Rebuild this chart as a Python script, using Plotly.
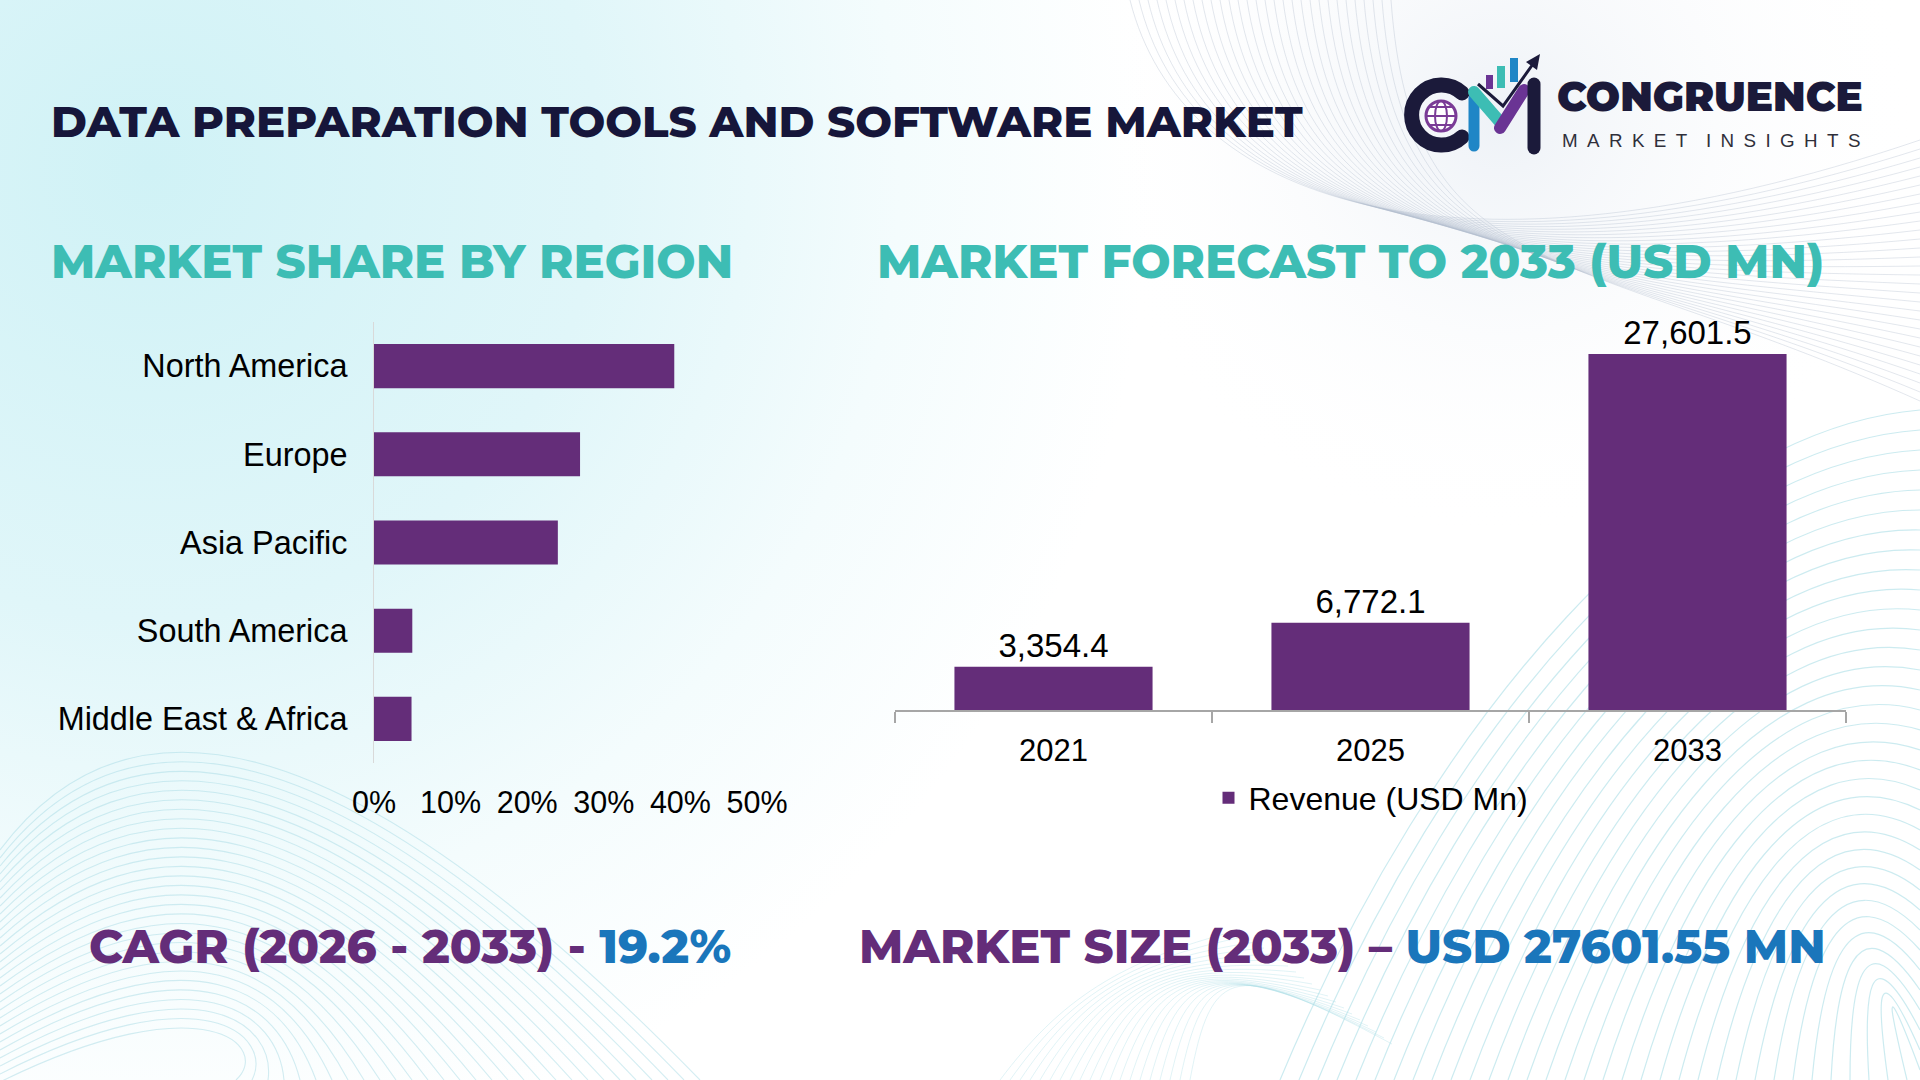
import base64
import plotly.graph_objects as go

# ---------------- data ----------------
regions = ["North America", "Europe", "Asia Pacific", "South America", "Middle East & Africa"]
shares = [0.392, 0.269, 0.240, 0.050, 0.049]
share_ticks = [0, 0.1, 0.2, 0.3, 0.4, 0.5]
years = ["2021", "2025", "2033"]
revenue = [3354.4, 6772.1, 27601.5]

title_text = "DATA PREPARATION TOOLS AND SOFTWARE MARKET"
left_heading = "MARKET SHARE BY REGION"
right_heading = "MARKET FORECAST TO 2033 (USD MN)"
cagr_label, cagr_value = "CAGR (2026 - 2033) - ", "19.2%"
size_label, size_value = "MARKET SIZE (2033) – ", "USD 27601.55 MN"

# ---------------- style ----------------
W, H = 1920, 1080
PURPLE = "#642d79"
TEAL = "#3dbdb4"
NAVY = "#16163a"
BLUE = "#1a76bb"
ARIAL = "Arial, Liberation Sans, Helvetica, sans-serif"
HEAD = "Montserrat, Open Sans, Inter, sans-serif"


def px(x):
    return x / W


def py(y):
    return 1 - y / H


# ---------------- decorative background (svg image) ----------------
svg = [f"<svg xmlns='http://www.w3.org/2000/svg' width='{W}' height='{H}' viewBox='0 0 {W} {H}' preserveAspectRatio='none'>"]
svg.append(
    "<defs>"
    "<radialGradient id='g1' gradientUnits='userSpaceOnUse' cx='150' cy='170' r='1000'>"
    "<stop offset='0' stop-color='#d0f2f6'/>"
    "<stop offset='0.45' stop-color='#e0f6f9'/>"
    "<stop offset='0.75' stop-color='#f4fcfd'/>"
    "<stop offset='1' stop-color='#ffffff'/>"
    "</radialGradient>"
    "<radialGradient id='g2' gradientUnits='userSpaceOnUse' cx='1500' cy='120' r='420'>"
    "<stop offset='0' stop-color='#eef2f7'/>"
    "<stop offset='1' stop-color='#ffffff' stop-opacity='0'/>"
    "</radialGradient>"
    "</defs>"
)
svg.append(f"<rect width='{W}' height='{H}' fill='#ffffff'/>")
svg.append(f"<rect width='{W}' height='{H}' fill='url(#g1)'/>")
svg.append(f"<rect width='{W}' height='{H}' fill='url(#g2)'/>")

# bottom-right cyan waves
for i in range(34):
    svg.append(
        f"<path d='M{1280 + i*19},{H} C{1430 + i*14},{720 + i*9} {1680 + i*6},{430 + i*16} {W},{410 + i*20}' "
        f"fill='none' stroke='#8fd2de' stroke-opacity='0.45' stroke-width='1.2'/>"
    )
# bottom-left cyan waves
for i in range(30):
    svg.append(
        f"<path d='M0,{850 + i*8} C{120 + i*3},{690 + i*10} {330 - i*2},{700 + i*12} {700 - i*16},{H}' "
        f"fill='none' stroke='#9fd8e2' stroke-opacity='0.45' stroke-width='1.1'/>"
    )
# bottom-middle waves
for i in range(20):
    svg.append(
        f"<path d='M{1000 + i*10},{H} C{1060 + i*8},{1000 - i*2} {1120 + i*6},{960} {1240 + i*8},{930 + i*6}' "
        f"fill='none' stroke='#a8dce5' stroke-opacity='0.35' stroke-width='1'/>"
    )
# top-right grey waves
for i in range(30):
    svg.append(
        f"<path d='M{1130 + i*9},0 C{1180 + i*8},{200 + i*3} {1450 + i*4},{300 - i*2} {W},{140 + i*9}' "
        f"fill='none' stroke='#aeb9cc' stroke-opacity='0.35' stroke-width='1'/>"
    )

# logo graphic (icon only; text is real text below)
svg.append(
    "<path d='M1462,93 A30,30 0 1,0 1462,137' fill='none' stroke='#1b1a3a' stroke-width='15' stroke-linecap='round'/>"
    "<circle cx='1441' cy='116' r='15' fill='#ffffff' stroke='#7a3b96' stroke-width='3'/>"
    "<ellipse cx='1441' cy='116' rx='6' ry='15' fill='none' stroke='#7a3b96' stroke-width='2'/>"
    "<line x1='1426' y1='116' x2='1456' y2='116' stroke='#7a3b96' stroke-width='2'/>"
    "<line x1='1429' y1='107' x2='1453' y2='107' stroke='#7a3b96' stroke-width='2'/>"
    "<line x1='1429' y1='125' x2='1453' y2='125' stroke='#7a3b96' stroke-width='2'/>"
    "<line x1='1474' y1='98' x2='1474' y2='146' stroke='#1f86c6' stroke-width='11' stroke-linecap='round'/>"
    "<line x1='1474' y1='92' x2='1500' y2='122' stroke='#3dbdb4' stroke-width='12' stroke-linecap='round'/>"
    "<line x1='1500' y1='128' x2='1524' y2='90' stroke='#6a3494' stroke-width='12' stroke-linecap='round'/>"
    "<line x1='1534' y1='84' x2='1534' y2='148' stroke='#1b1a3a' stroke-width='13' stroke-linecap='round'/>"
    "<rect x='1486' y='75' width='7' height='14' fill='#6a3494'/>"
    "<rect x='1497' y='66' width='8' height='22' fill='#3dbdb4'/>"
    "<rect x='1510' y='58' width='8' height='24' fill='#1f86c6'/>"
    "<polyline points='1478,84 1503,106 1533,64' fill='none' stroke='#1b1a3a' stroke-width='3'/>"
    "<polygon points='1540,54 1526,62 1537,70' fill='#1b1a3a'/>"
)
svg.append("</svg>")
svg_uri = "data:image/svg+xml;base64," + base64.b64encode("".join(svg).encode("utf-8")).decode("ascii")

# ---------------- figure ----------------
fig = go.Figure()

fig.add_trace(go.Bar(
    x=shares, y=regions, orientation="h",
    marker=dict(color=PURPLE, line=dict(width=0)),
    width=0.5, xaxis="x", yaxis="y", showlegend=False,
    hoverinfo="skip",
))

fig.add_trace(go.Bar(
    x=years, y=revenue, name="Revenue (USD Mn)",
    marker=dict(color=PURPLE, line=dict(width=0)),
    width=0.625, xaxis="x2", yaxis="y2", showlegend=True,
    texttemplate="%{y:,.1f}", textposition="outside", cliponaxis=False,
    textfont=dict(family=ARIAL, size=33, color="#000000"),
))

fig.update_layout(
    template="none",
    width=W, height=H,
    autosize=False,
    margin=dict(l=0, r=0, t=0, b=0, pad=0, autoexpand=False),
    paper_bgcolor="#ffffff",
    plot_bgcolor="rgba(0,0,0,0)",
    font=dict(family=ARIAL, size=30, color="#000000"),
    bargap=0.5,
    images=[dict(source=svg_uri, xref="paper", yref="paper", x=0, y=1,
                 sizex=1, sizey=1, xanchor="left", yanchor="top",
                 sizing="stretch", layer="below")],
    xaxis=dict(
        domain=[px(374), px(757)], range=[0, 0.5], tickvals=share_ticks,
        tickformat=".0%", showgrid=False, zeroline=False, showline=False,
        ticks="", ticklabelstandoff=18, tickfont=dict(family=ARIAL, size=30.5, color="#000"),
        anchor="y", fixedrange=True, automargin=False,
    ),
    yaxis=dict(
        domain=[py(763), py(322)], categoryorder="array", categoryarray=regions,
        autorange="reversed", showgrid=False, zeroline=False,
        showline=True, linecolor="#d9d9d9", linewidth=1,
        ticks="", ticklabelstandoff=19, tickfont=dict(family=ARIAL, size=32.4, color="#000"),
        anchor="x", fixedrange=True, automargin=False,
    ),
    xaxis2=dict(
        domain=[px(895), px(1846)], type="category",
        showline=True, linecolor="#a6a6a6", linewidth=1.5,
        ticks="outside", tickson="boundaries", ticklen=11, tickcolor="#a6a6a6", tickwidth=1.5,
        showgrid=False, zeroline=False, ticklabelstandoff=12,
        tickfont=dict(family=ARIAL, size=31, color="#000"),
        anchor="y2", fixedrange=True, automargin=False,
    ),
    yaxis2=dict(
        domain=[py(710), py(323)], range=[0, 30000], visible=False,
        anchor="x2", fixedrange=True, automargin=False,
    ),
    legend=dict(
        orientation="h", x=px(1371), xanchor="center", y=py(798), yanchor="middle",
        font=dict(family=ARIAL, size=32, color="#000"), bgcolor="rgba(0,0,0,0)",
        borderwidth=0, itemwidth=30,
    ),
)

annotations = [
    dict(text=title_text, x=px(49), y=py(122), font=dict(family=HEAD, size=43.5, color=NAVY, weight=800)),
    dict(text=left_heading, x=px(49), y=py(261), font=dict(family=HEAD, size=46.5, color=TEAL, weight=800)),
    dict(text=right_heading, x=px(875), y=py(261), font=dict(family=HEAD, size=46.5, color=TEAL, weight=800)),
    dict(text=f"<span style='color:{PURPLE}'>{cagr_label}</span><span style='color:{BLUE}'>{cagr_value}</span>",
         x=px(87), y=py(946), font=dict(family=HEAD, size=46.5, color=PURPLE, weight=800)),
    dict(text=f"<span style='color:{PURPLE}'>{size_label}</span><span style='color:{BLUE}'>{size_value}</span>",
         x=px(857), y=py(946), font=dict(family=HEAD, size=46.5, color=PURPLE, weight=800)),
    dict(text="CONGRUENCE", x=px(1555), y=py(97), font=dict(family=HEAD, size=40.5, color="#1b1a3a", weight=900)),
    dict(text="M\u2002A\u2002R\u2002K\u2002E\u2002T\u2003I\u2002N\u2002S\u2002I\u2002G\u2002H\u2002T\u2002S",
         x=px(1560), y=py(140), font=dict(family=ARIAL, size=18.8, color="#2f2f3a")),
]
for a in annotations:
    a.update(xref="paper", yref="paper", xanchor="left", yanchor="middle", showarrow=False)
fig.update_layout(annotations=annotations)

fig.write_html("out.html")
